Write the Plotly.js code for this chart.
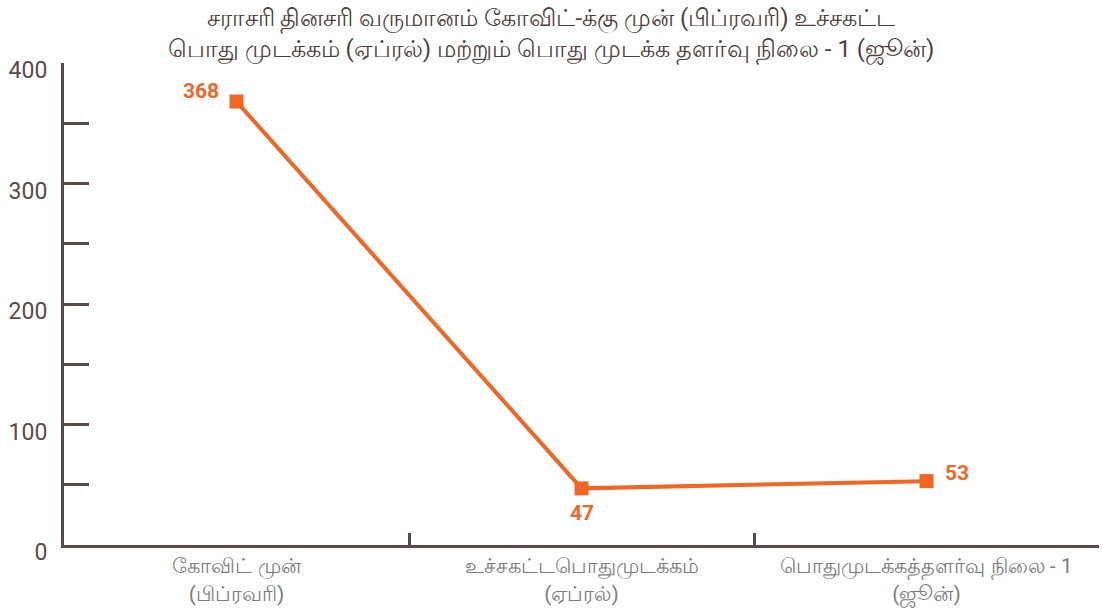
<!DOCTYPE html>
<html>
<head>
<meta charset="utf-8">
<script src="https://cdn.plot.ly/plotly-3.0.1.min.js"></script>
<style>html,body{margin:0;padding:0;background:#fff;}#chart{width:1102px;height:616px;}</style>
</head>
<body>
<div id="chart"></div>
<script>
const categories = [
  "கோவிட் முன்<br>(பிப்ரவரி)",
  "உச்சகட்டபொதுமுடக்கம்<br>(ஏப்ரல்)",
  "பொதுமுடக்கத்தளர்வு நிலை - 1<br>(ஜூன்)"
];
const incomeValues = [368, 47, 53];
const valueLabels = ["368", "47", "53"];
const chartTitle = "சராசரி தினசரி வருமானம் கோவிட்-க்கு முன் (பிப்ரவரி) உச்சகட்ட<br>பொது முடக்கம் (ஏப்ரல்) மற்றும் பொது முடக்க தளர்வு நிலை - 1 (ஜூன்)";

const orange = "#F26522";
const axisColor = "#5b4b48";
const fontFamily = "Roboto, 'Noto Sans', 'DejaVu Sans', sans-serif";

const trace = {
  x: categories,
  y: incomeValues,
  type: "scatter",
  mode: "lines+markers",
  line: {color: orange, width: 4},
  marker: {symbol: "square", size: 14, color: orange},
  cliponaxis: false,
  hoverinfo: "none"
};

// label placement styles (left, below, right)
const labelStyle = [
  {xanchor: "right", xshift: -16, yshift: 11},
  {xanchor: "center", xshift: 0, yshift: -25},
  {xanchor: "left", xshift: 16, yshift: 8}
];
const annotations = incomeValues.map((v, i) => ({
  x: categories[i], y: v, xref: "x", yref: "y",
  text: valueLabels[i], showarrow: false,
  xanchor: labelStyle[i].xanchor, yanchor: "middle",
  xshift: labelStyle[i].xshift, yshift: labelStyle[i].yshift,
  font: {family: fontFamily, size: 21, color: orange, weight: "bold"}
}));

const layout = {
  width: 1102,
  height: 616,
  margin: {l: 64, r: 3, t: 63, b: 71},
  paper_bgcolor: "#fff",
  plot_bgcolor: "#fff",
  showlegend: false,
  font: {family: fontFamily, color: axisColor},
  title: {
    text: chartTitle,
    font: {family: fontFamily, size: 24, color: "#4f403d"},
    x: 0.5, xanchor: "center",
    y: 0.958, yanchor: "middle", yref: "container"
  },
  annotations: annotations,
  xaxis: {
    type: "category",
    range: [-0.5, 2.5],
    showline: true, linecolor: axisColor, linewidth: 3,
    showgrid: false, zeroline: false,
    ticks: "inside", tickson: "boundaries", ticklen: 12, tickwidth: 3, tickcolor: axisColor,
    tickfont: {family: fontFamily, size: 21, color: "#7d7d7d"},
    ticklabelstandoff: 0,
    fixedrange: true
  },
  yaxis: {
    range: [0, 400],
    tickvals: [0, 100, 200, 300, 400],
    showline: true, linecolor: axisColor, linewidth: 3,
    showgrid: false, zeroline: false,
    ticks: "inside", ticklen: 25, tickwidth: 3, tickcolor: axisColor,
    minor: {tickvals: [50, 150, 250, 350], ticks: "inside", ticklen: 25, tickwidth: 3, tickcolor: axisColor, showgrid: false},
    tickfont: {family: fontFamily, size: 23, color: axisColor},
    ticklabelstandoff: 9,
    ticklabelshift: 7,
    fixedrange: true
  }
};

Plotly.newPlot("chart", [trace], layout, {displayModeBar: false, staticPlot: true});
</script>
</body>
</html>
